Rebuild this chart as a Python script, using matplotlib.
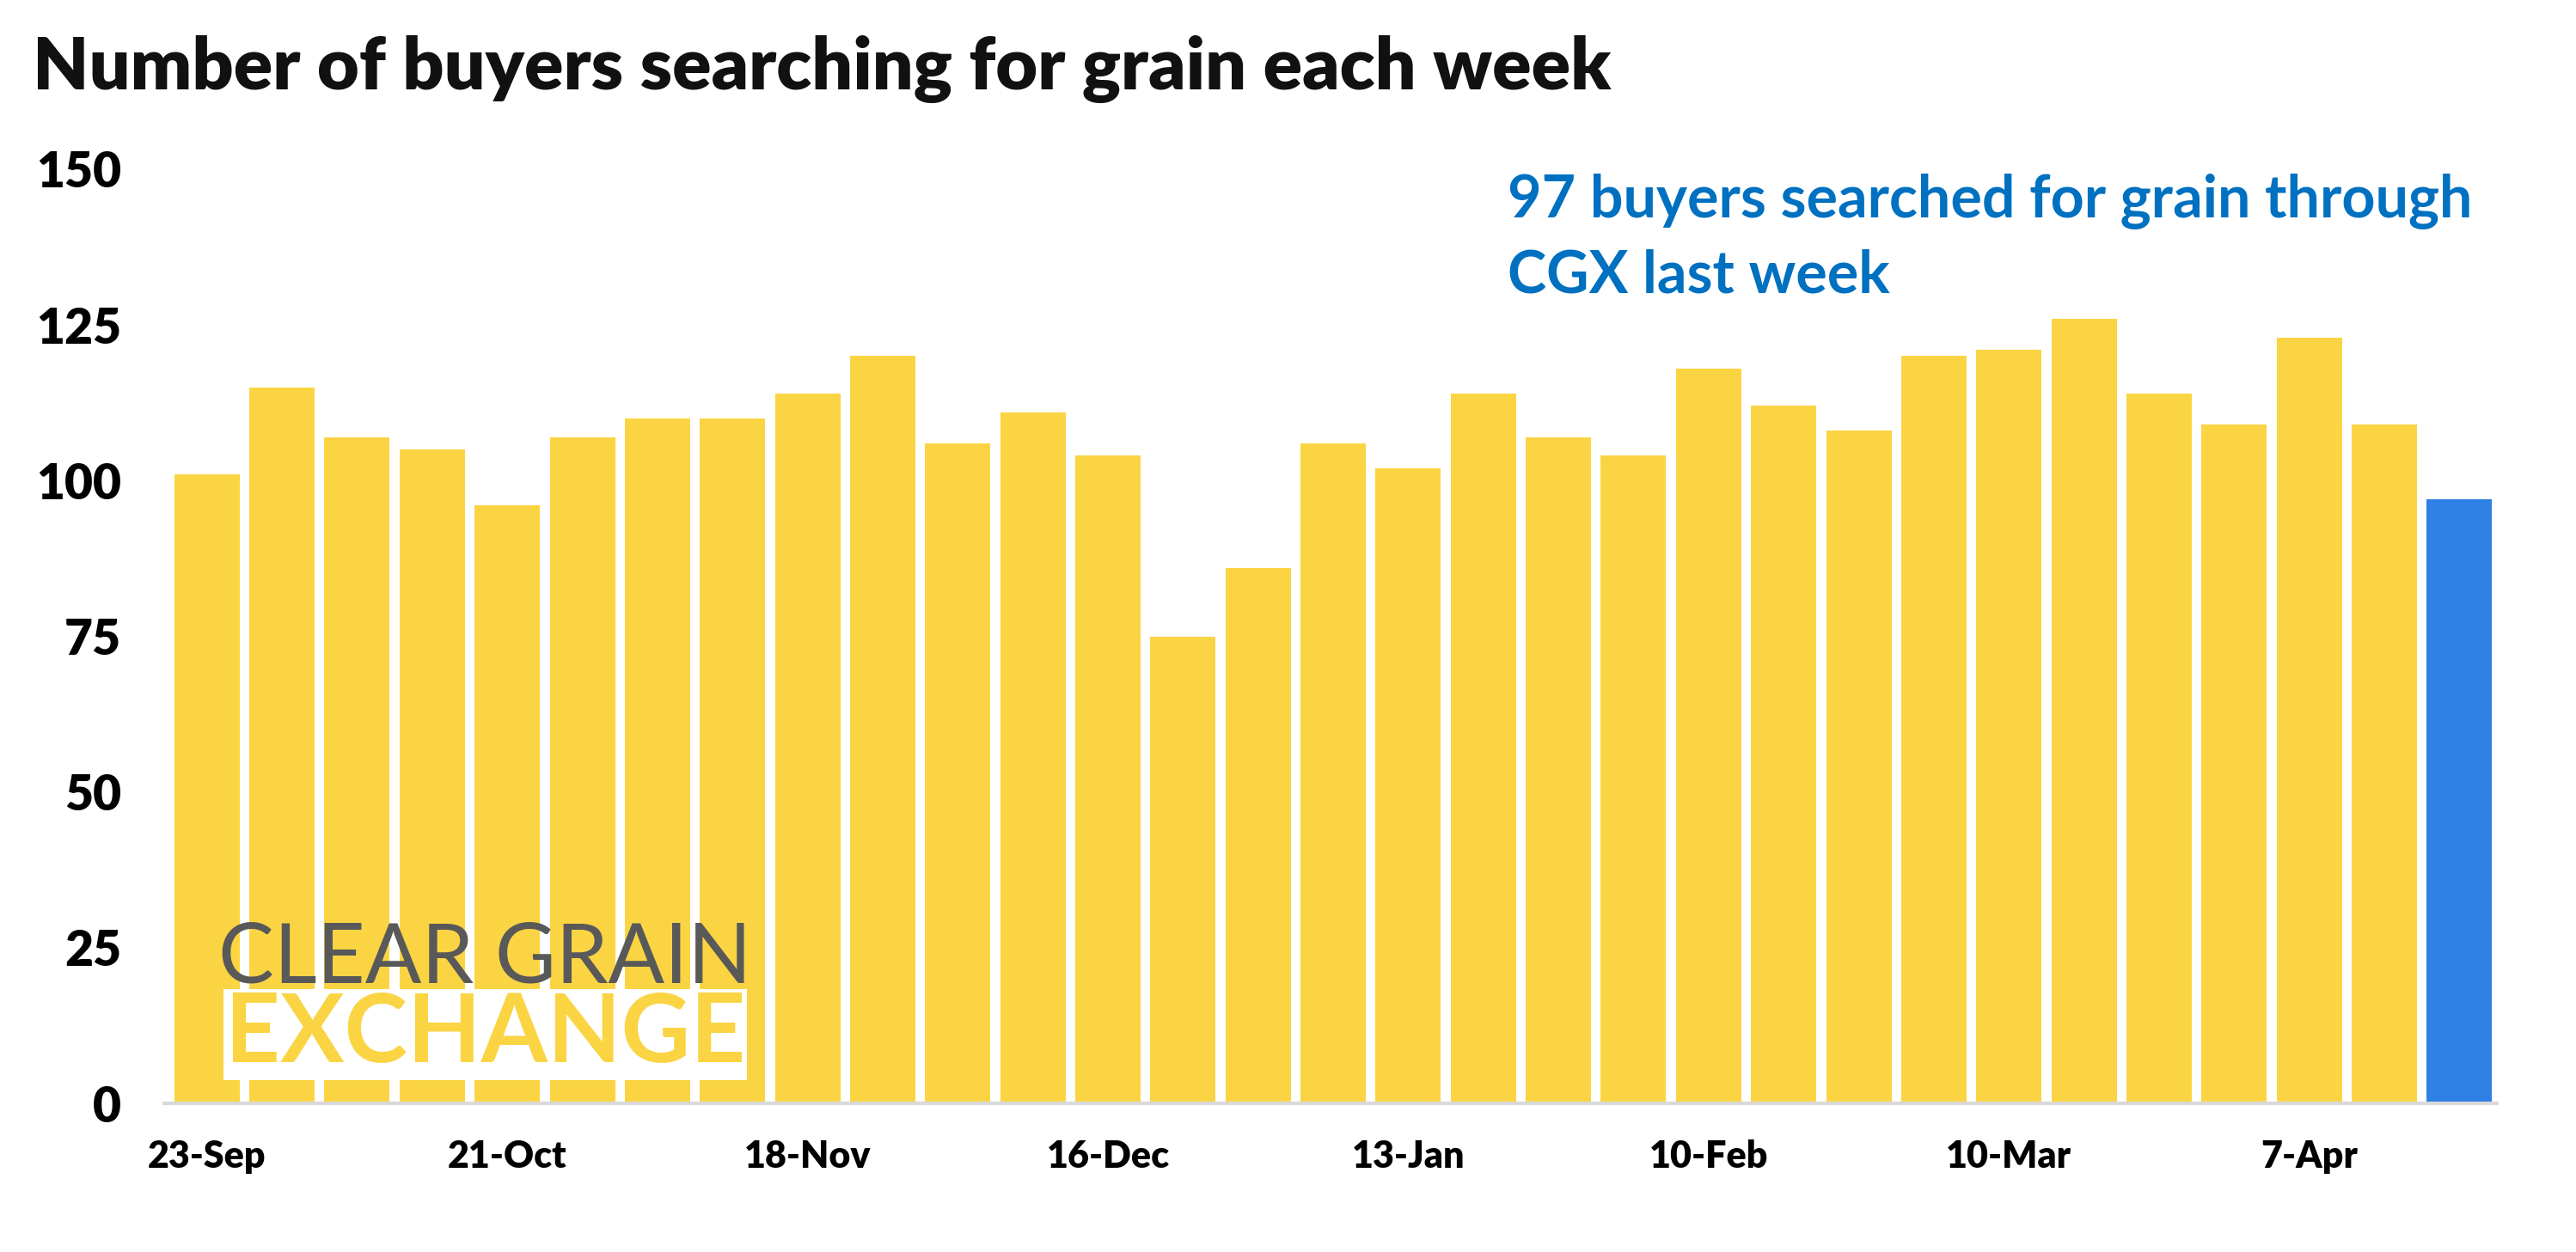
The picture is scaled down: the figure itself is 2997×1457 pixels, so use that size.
import matplotlib
matplotlib.use("Agg")
import matplotlib.pyplot as plt
from matplotlib import font_manager as fm

weeks = ["23-Sep", "30-Sep", "7-Oct", "14-Oct", "21-Oct", "28-Oct", "4-Nov", "11-Nov",
         "18-Nov", "25-Nov", "2-Dec", "9-Dec", "16-Dec", "23-Dec", "30-Dec", "6-Jan",
         "13-Jan", "20-Jan", "27-Jan", "3-Feb", "10-Feb", "17-Feb", "24-Feb", "3-Mar",
         "10-Mar", "17-Mar", "24-Mar", "31-Mar", "7-Apr", "14-Apr", "21-Apr"]
buyers = [101, 115, 107, 105, 96, 107, 110, 110, 114, 120, 106, 111, 104, 75, 86, 106,
          102, 114, 107, 104, 118, 112, 108, 120, 121, 126, 114, 109, 123, 109, 97]
yticks = [0, 25, 50, 75, 100, 125, 150]
title = "Number of buyers searching for grain each week"
note = "97 buyers searched for grain through\nCGX last week"

YELLOW = "#FBD443"
BLUE = "#2F80E5"
NOTE_BLUE = "#0070C0"

available = {f.name for f in fm.fontManager.ttflist}
FONT = "Lato" if "Lato" in available else "DejaVu Sans"
plt.rcParams["font.family"] = [FONT, "DejaVu Sans"]

W, H = 2997, 1457
fig = plt.figure(figsize=(W / 100, H / 100), dpi=100)
fig.patch.set_facecolor("white")

left, right = 191, 2905
bottom, top = 1284, 197
ax = fig.add_axes([left / W, (H - bottom) / H, (right - left) / W, (bottom - top) / H])

colors = [YELLOW] * (len(buyers) - 1) + [BLUE]
x = list(range(len(buyers)))
ax.bar(x, buyers, width=0.87, color=colors, zorder=2)

ax.set_xlim(-0.57, len(buyers) - 0.5)
ax.set_ylim(0, 150)
ax.set_yticks(yticks)
ax.set_yticklabels([str(v) for v in yticks], fontsize=41, fontweight="heavy")
ax.set_xticks(x[::4])
ax.set_xticklabels(weeks[::4], fontsize=31, fontweight="heavy")
ax.tick_params(axis="y", length=0, pad=36)
ax.tick_params(axis="x", length=0, pad=30)
for s in ["top", "right", "left"]:
    ax.spines[s].set_visible(False)
ax.spines["bottom"].set_color("#D9D9D9")
ax.spines["bottom"].set_linewidth(3)
ax.spines["bottom"].set_zorder(3)

renderer = fig.canvas.get_renderer()

def fit(t, target_w):
    bb = t.get_window_extent(renderer=renderer)
    t.set_fontsize(t.get_fontsize() * target_w / bb.width)

t = fig.text(38 / W, 1 - 80 / H, title, fontsize=60, fontweight="heavy",
             color="#111111", ha="left", va="center")
fit(t, 1840)

n = fig.text(1754 / W, 1 - 277 / H, note, fontsize=50, fontweight="bold",
             color=NOTE_BLUE, ha="left", va="center", linespacing=1.45)
fit(n, 1126)

# logo
l1 = fig.text(254 / W, 1 - 1116 / H, "CLEAR GRAIN", fontsize=50, fontweight="normal",
              color="#595959", ha="left", va="center", zorder=5)
fit(l1, 621)
l2 = fig.text(262 / W, 1 - 1204 / H, "EXCHANGE", fontsize=50, fontweight="bold",
              color=YELLOW, ha="left", va="center", zorder=5,
              bbox=dict(boxstyle="square,pad=0.02", facecolor="white", edgecolor="none"))
fit(l2, 606)

fig.savefig("out.png", dpi=100, facecolor="white")
